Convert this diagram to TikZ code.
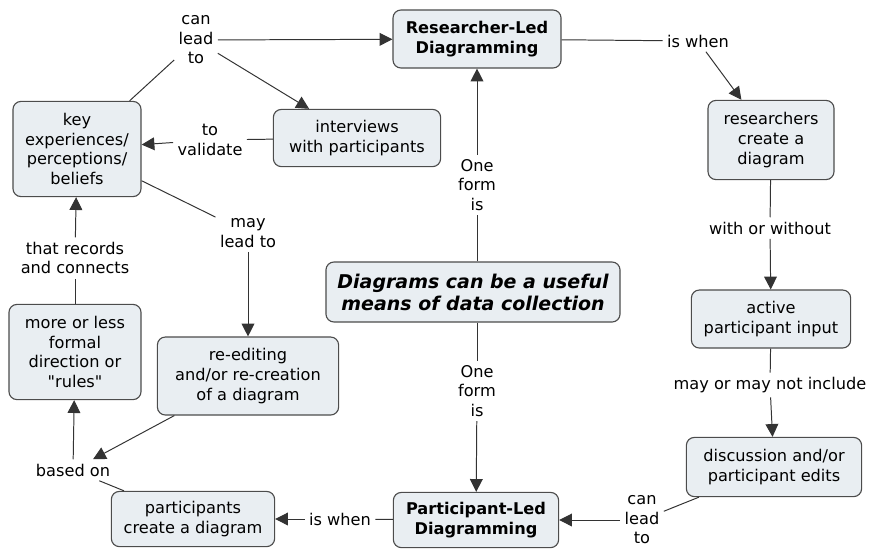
\documentclass[tikz,border=0pt]{standalone}
\usepackage{fontspec}
\setmainfont{DejaVu Sans}
\usepackage{tikz}
\usetikzlibrary{arrows.meta}
\usepackage{xcolor}
\definecolor{boxfill}{HTML}{E9EEF2}
\definecolor{boxline}{HTML}{4C4C4C}
\definecolor{linkcol}{HTML}{333333}

\begin{document}
\begin{tikzpicture}[x=0.025cm,y=-0.025cm,>={Triangle[length=3.2mm,width=3.2mm]},
  font=\fontsize{11.5}{13.9}\selectfont,
  concept/.style={draw=boxline,fill=boxfill,rounded corners=2mm,line width=0.8pt,align=center,inner sep=2pt},
  linkword/.style={align=center,inner sep=3pt},
  link/.style={draw=linkcol,line width=0.7pt}]
\useasboundingbox (0,0) rectangle (872,548);
\node[concept,minimum width=7.35cm,minimum height=1.5cm,font=\fontsize{13.5}{15.6}\selectfont\bfseries\itshape] (main) at (473,292) {Diagrams can be a useful\\means of data collection};
\node[concept,minimum width=4.2cm,minimum height=1.45cm,font=\fontsize{11.5}{13.9}\selectfont\bfseries] (rl) at (477,39) {Researcher-Led\\Diagramming};
\node[concept,minimum width=4.13cm,minimum height=1.38cm,font=\fontsize{11.5}{13.9}\selectfont\bfseries] (pl) at (476,520) {Participant-Led\\Diagramming};
\node[concept,minimum width=3.15cm,minimum height=1.98cm] (rc) at (771,140) {researchers\\create a\\diagram};
\node[concept,minimum width=3.98cm,minimum height=1.45cm] (api) at (771,319) {active\\participant input};
\node[concept,minimum width=4.38cm,minimum height=1.48cm] (dpe) at (774,467) {discussion and/or\\participant edits};
\node[concept,minimum width=4.08cm,minimum height=1.38cm] (pcd) at (193,519) {participants\\create a diagram};
\node[concept,minimum width=3.3cm,minimum height=2.38cm] (mlf) at (75,352) {more or less\\formal\\direction or\\\textquotedbl rules\textquotedbl};
\node[concept,minimum width=4.53cm,minimum height=1.95cm] (re) at (248,376) {re-editing\\and/or re-creation\\of a diagram};
\node[concept,minimum width=3.2cm,minimum height=2.38cm] (ke) at (77,149) {key\\experiences/\\perceptions/\\beliefs};
\node[concept,minimum width=4.18cm,minimum height=1.43cm] (int) at (357,138) {interviews\\with participants};

\node[linkword] (canlead) at (196,40) {can\\lead\\to};
\node[linkword] (validate) at (210,140) {to\\validate};
\node[linkword] (maylead) at (248,233) {may\\lead to};
\node[linkword] (records) at (75,258) {that records\\and connects};
\node[linkword] (basedon) at (73,470) {based on};
\node[linkword] (iswhenb) at (340,519) {is when};
\node[linkword] (canleadb) at (642,520) {can\\lead\\to};
\node[linkword] (mayinc) at (770,385) {may or may not include};
\node[linkword] (withwo) at (770,228) {with or without};
\node[linkword] (iswhent) at (698,41) {is when};
\node[linkword] (oneformt) at (477,185) {One\\form\\is};
\node[linkword] (oneformb) at (477,391) {One\\form\\is};

\draw[link] (ke) -- (canlead);
\draw[link,->] (canlead) -- (rl);
\draw[link,->] (canlead) -- (int);
\draw[link] (int) -- (validate);
\draw[link,->] (validate) -- (ke);
\draw[link] (ke) -- (maylead);
\draw[link,->] (maylead) -- (re);
\draw[link] (mlf) -- (records);
\draw[link,->] (records) -- (ke);
\draw[link,->] (re) -- (basedon);
\draw[link] (pcd) -- (basedon);
\draw[link,->] (basedon) -- (mlf);
\draw[link] (pl) -- (iswhenb);
\draw[link,->] (iswhenb) -- (pcd);
\draw[link] (dpe) -- (canleadb);
\draw[link,->] (canleadb) -- (pl);
\draw[link] (api) -- (mayinc);
\draw[link,->] (mayinc) -- (dpe);
\draw[link] (rc) -- (withwo);
\draw[link,->] (withwo) -- (api);
\draw[link] (rl) -- (iswhent);
\draw[link,->] (iswhent) -- (rc);
\draw[link] (main.north -| oneformt) -- (oneformt);
\draw[link,->] (oneformt) -- (rl);
\draw[link] (main.south -| oneformb) -- (oneformb);
\draw[link,->] (oneformb) -- (pl);
\end{tikzpicture}
\end{document}
